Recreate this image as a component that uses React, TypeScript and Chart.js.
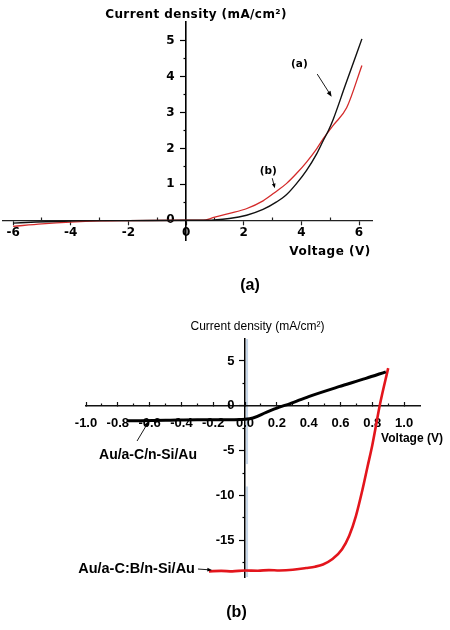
import React, { useEffect, useRef } from 'react';
import { Chart, registerables } from 'chart.js';

Chart.register(...registerables);

// ---------- Panel (a): J–V curves over ±6 V ----------
const voltageA = [-6, -5.2, -4, -2, 0, 0.7, 1.5, 2.1, 2.67, 3.14, 3.48, 3.83, 4.18, 4.53, 4.76, 4.94, 5.11, 5.52, 6.1];
const currentA = [-0.08, -0.05, -0.02, -0.01, 0, 0, 0.05, 0.14, 0.3, 0.51, 0.71, 1.02, 1.39, 1.85, 2.22, 2.5, 2.82, 3.75, 5.05];
const voltageB = [-6, -5, -4, -3, -2, 0, 0.6, 0.93, 1.51, 2.09, 2.67, 3.14, 3.48, 3.83, 4.18, 4.53, 4.76, 4.94, 5.11, 5.57, 6.1];
const currentB = [-0.17, -0.1, -0.05, -0.02, -0.01, 0, 0, 0.07, 0.19, 0.32, 0.54, 0.81, 1.02, 1.3, 1.62, 1.99, 2.27, 2.47, 2.65, 3.13, 4.31];

const xTicksA = [-6, -4, -2, 0, 2, 4, 6];
const xTickLabelsA = ['-6', '-4', '-2', '0', '2', '4', '6'];
const xMinorTicksA = [-5, -3, -1, 1, 3, 5];
const yTicksA = [0, 1, 2, 3, 4, 5];
const yTickLabelsA = ['0', '1', '2', '3', '4', '5'];
const yMinorTicksA = [0.5, 1.5, 2.5, 3.5, 4.5];

// ---------- Panel (b): Au/a-C/n-Si/Au vs Au/a-C:B/n-Si/Au ----------
const voltageUndoped = [-0.74, -0.5, -0.3, -0.1, 0, 0.05, 0.133, 0.216, 0.28, 0.4, 0.59, 0.76, 0.885];
const currentUndoped = [-1.68, -1.62, -1.55, -1.55, -1.5, -1.36, -0.73, -0.15, 0.22, 1.03, 2.13, 3.05, 3.79];
const voltageBoron = [-0.227, -0.15, -0.08, 0, 0.08, 0.15, 0.216, 0.3, 0.384, 0.44, 0.49, 0.55, 0.61, 0.655, 0.697, 0.739, 0.77, 0.8, 0.85, 0.9];
const currentBoron = [-18.47, -18.42, -18.47, -18.37, -18.4, -18.33, -18.37, -18.3, -18.1, -17.95, -17.7, -17.1, -16.0, -14.5, -12.3, -9.3, -6.8, -4.4, 0.3, 4.2];

const xTicksB = [-1, -0.8, -0.6, -0.4, -0.2, 0, 0.2, 0.4, 0.6, 0.8, 1];
const xTickLabelsB = ['-1.0', '-0.8', '-0.6', '-0.4', '-0.2', '0.0', '0.2', '0.4', '0.6', '0.8', '1.0'];
const xMinorTicksB = [-0.9, -0.7, -0.5, -0.3, -0.1, 0.1, 0.3, 0.5, 0.7, 0.9];
const yTicksB = [-15, -10, -5, 0, 5];
const yTickLabelsB = ['-15', '-10', '-5', '0', '5'];
const yMinorTicksB = [-17.5, -12.5, -7.5, -2.5, 2.5];

const SANS_WIDE = '"DejaVu Sans", sans-serif';
const SANS = '"Liberation Sans", Arial, sans-serif';

type Pt = [number, number];
type FixedText = { text: string; x: number; y: number; font: string; spacing?: number };
type Note = { text: string; at: Pt; font: string };
type Arrow = { from: Pt; to: Pt; width: number; head: number };
type Decor = {
  texts: FixedText[];
  notes: Note[];
  arrows: Arrow[];
  // labels of the y axis, set just left of the axis line crossing x = 0
  yLabels: { values: number[]; labels: string[]; font: string; gap: number };
  strip?: { color: string; spans: Pt[] };
};

const toPoints = (xs: number[], ys: number[]) => xs.map((x, i) => ({ x, y: ys[i] }));

function makeAxis(o: {
  dir: 'x' | 'y';
  min: number;
  max: number;
  values: number[];
  labels?: string[];
  position: any;
  tickLength: number;
  padding?: number;
  font?: any;
  color: string;
  border: number;
}) {
  return {
    type: 'linear',
    axis: o.dir,
    display: true,
    min: o.min,
    max: o.max,
    position: o.position,
    afterBuildTicks: (s: any) => {
      s.ticks = o.values.map((v) => ({ value: v }));
    },
    afterFit: (s: any) => {
      if (o.dir === 'x') s.height = 0;
      else s.width = 0;
    },
    grid: {
      display: true,
      drawOnChartArea: false,
      drawTicks: true,
      tickLength: o.tickLength,
      tickColor: o.color,
      tickWidth: 1.2,
    },
    border: { display: o.border > 0, color: o.color, width: o.border || 1 },
    ticks: {
      display: !!o.labels,
      autoSkip: false,
      maxRotation: 0,
      padding: o.padding ?? 3,
      color: '#000',
      font: o.font,
      callback: (_v: any, i: number) => (o.labels ? o.labels[i] : ''),
    },
  };
}

function decorPlugin(d: Decor) {
  return {
    id: 'panelDecor',
    beforeDraw(chart: any) {
      if (!d.strip) return;
      const { ctx, scales } = chart;
      const x0 = scales.x.getPixelForValue(0) + 2;
      ctx.save();
      ctx.strokeStyle = d.strip.color;
      ctx.lineWidth = 2;
      for (const [a, b] of d.strip.spans) {
        ctx.beginPath();
        ctx.moveTo(x0, scales.y.getPixelForValue(a));
        ctx.lineTo(x0, scales.y.getPixelForValue(b));
        ctx.stroke();
      }
      ctx.restore();
    },
    beforeDatasetsDraw(chart: any) {
      const { ctx, scales } = chart;
      const yl = d.yLabels;
      const xAxis = scales.x.getPixelForValue(0);
      ctx.save();
      ctx.fillStyle = '#000';
      ctx.font = yl.font;
      ctx.textAlign = 'right';
      ctx.textBaseline = 'middle';
      yl.values.forEach((v, i) => {
        ctx.fillText(yl.labels[i], xAxis - yl.gap, scales.y.getPixelForValue(v));
      });
      ctx.restore();
    },
    afterDraw(chart: any) {
      const { ctx, scales } = chart;
      const px = (p: Pt): Pt => [scales.x.getPixelForValue(p[0]), scales.y.getPixelForValue(p[1])];
      ctx.save();
      ctx.fillStyle = '#000';
      ctx.strokeStyle = '#000';
      ctx.textAlign = 'center';
      ctx.textBaseline = 'middle';
      for (const t of d.texts) {
        ctx.font = t.font;
        (ctx as any).letterSpacing = `${t.spacing ?? 0}px`;
        ctx.fillText(t.text, t.x, t.y);
      }
      (ctx as any).letterSpacing = '0px';
      for (const n of d.notes) {
        const [x, y] = px(n.at);
        ctx.font = n.font;
        ctx.fillText(n.text, x, y);
      }
      for (const a of d.arrows) {
        const [x1, y1] = px(a.from);
        const [x2, y2] = px(a.to);
        const ang = Math.atan2(y2 - y1, x2 - x1);
        ctx.lineWidth = a.width;
        ctx.beginPath();
        ctx.moveTo(x1, y1);
        ctx.lineTo(x2 - Math.cos(ang) * a.head * 0.6, y2 - Math.sin(ang) * a.head * 0.6);
        ctx.stroke();
        ctx.beginPath();
        ctx.moveTo(x2, y2);
        ctx.lineTo(x2 - a.head * Math.cos(ang - 0.38), y2 - a.head * Math.sin(ang - 0.38));
        ctx.lineTo(x2 - a.head * Math.cos(ang + 0.38), y2 - a.head * Math.sin(ang + 0.38));
        ctx.closePath();
        ctx.fill();
      }
      ctx.restore();
    },
  };
}

function configA(): any {
  const tickFont = { family: SANS_WIDE, size: 12, weight: 'bold' };
  const decor: Decor = {
    texts: [
      { text: 'Current density (mA/cm²)', x: 196, y: 15, font: `bold 12px ${SANS_WIDE}`, spacing: 0.4 },
      { text: 'Voltage (V)', x: 330, y: 252, font: `bold 12px ${SANS_WIDE}`, spacing: 0.5 },
      { text: '(a)', x: 250, y: 286, font: `bold 16px ${SANS}` },
    ],
    notes: [
      { text: '(a)', at: [3.93, 4.35], font: `bold 10.5px ${SANS_WIDE}` },
      { text: '(b)', at: [2.85, 1.35], font: `bold 10.5px ${SANS_WIDE}` },
    ],
    arrows: [
      { from: [4.55, 4.07], to: [5.05, 3.44], width: 0.9, head: 6 },
      { from: [2.99, 1.17], to: [3.08, 0.89], width: 0.9, head: 5 },
    ],
    yLabels: { values: yTicksA, labels: yTickLabelsA, font: `bold 12px ${SANS_WIDE}`, gap: 11.5 },
  };
  return {
    type: 'line',
    data: {
      datasets: [
        {
          label: '(a)',
          data: toPoints(voltageA, currentA),
          borderColor: '#111',
          borderWidth: 1.4,
          pointRadius: 0,
          cubicInterpolationMode: 'monotone',
        },
        {
          label: '(b)',
          data: toPoints(voltageB, currentB),
          borderColor: '#d42a2a',
          borderWidth: 1.3,
          pointRadius: 0,
          cubicInterpolationMode: 'monotone',
        },
      ],
    },
    options: {
      responsive: false,
      animation: false,
      events: [],
      layout: { padding: { left: 3, right: 78, top: 22, bottom: 60 } },
      plugins: { legend: { display: false }, tooltip: { enabled: false } },
      scales: {
        x: makeAxis({ dir: 'x', min: -6.35, max: 6.45, values: xTicksA, labels: xTickLabelsA, position: { y: 0 }, tickLength: 4, padding: 1.5, font: tickFont, color: '#222', border: 1.3 }),
        xMinor: makeAxis({ dir: 'x', min: -6.35, max: 6.45, values: xMinorTicksA, position: { y: 0 }, tickLength: -2.5, color: '#222', border: 0 }),
        y: makeAxis({ dir: 'y', min: -0.55, max: 5.52, values: yTicksA, position: { x: 0 }, tickLength: 5, color: '#000', border: 1.6 }),
        yMinor: makeAxis({ dir: 'y', min: -0.55, max: 5.52, values: yMinorTicksA, position: { x: 0 }, tickLength: 2.5, color: '#000', border: 0 }),
      },
    },
    plugins: [decorPlugin(decor)],
  };
}

function configB(): any {
  const tickFont = { family: SANS, size: 13, weight: 'bold' };
  const decor: Decor = {
    texts: [
      { text: 'Current density (mA/cm²)', x: 257.5, y: 27, font: `12px ${SANS}` },
      { text: 'Voltage (V)', x: 412, y: 139, font: `bold 12px ${SANS}` },
      { text: '(b)', x: 236.5, y: 313, font: `bold 16px ${SANS}` },
    ],
    notes: [
      { text: 'Au/a-C/n-Si/Au', at: [-0.61, -5.49], font: `bold 14px ${SANS}` },
      { text: 'Au/a-C:B/n-Si/Au', at: [-0.682, -18.21], font: `bold 14.5px ${SANS}` },
    ],
    arrows: [
      { from: [-0.679, -3.93], to: [-0.604, -1.7], width: 0.9, head: 6 },
      { from: [-0.296, -18.21], to: [-0.208, -18.32], width: 0.9, head: 5 },
    ],
    yLabels: { values: yTicksB, labels: yTickLabelsB, font: `bold 13px ${SANS}`, gap: 10.5 },
    strip: { color: '#c6d6e8', spans: [[7.45, -6.5], [-9, -19.1]] },
  };
  return {
    type: 'line',
    data: {
      datasets: [
        {
          label: 'Au/a-C/n-Si/Au',
          data: toPoints(voltageUndoped, currentUndoped),
          borderColor: '#000',
          borderWidth: 3,
          pointRadius: 0,
          cubicInterpolationMode: 'monotone',
        },
        {
          label: 'Au/a-C:B/n-Si/Au',
          data: toPoints(voltageBoron, currentBoron),
          borderColor: '#e3151c',
          borderWidth: 2.6,
          pointRadius: 0,
          cubicInterpolationMode: 'monotone',
        },
      ],
    },
    options: {
      responsive: false,
      animation: false,
      events: [],
      layout: { padding: { left: 86, right: 30, top: 39, bottom: 53 } },
      plugins: { legend: { display: false }, tooltip: { enabled: false } },
      scales: {
        x: makeAxis({ dir: 'x', min: -1, max: 1.1, values: xTicksB, labels: xTickLabelsB, position: { y: 0 }, tickLength: -4.5, padding: 13.9, font: tickFont, color: '#111', border: 1.5 }),
        xMinor: makeAxis({ dir: 'x', min: -1, max: 1.1, values: xMinorTicksB, position: { y: 0 }, tickLength: -2.5, color: '#111', border: 0 }),
        y: makeAxis({ dir: 'y', min: -19.1, max: 7.45, values: yTicksB, position: { x: 0 }, tickLength: 5, color: '#000', border: 1.5 }),
        yMinor: makeAxis({ dir: 'y', min: -19.1, max: 7.45, values: yMinorTicksB, position: { x: 0 }, tickLength: 2.5, color: '#000', border: 0 }),
      },
    },
    plugins: [decorPlugin(decor)],
  };
}

function Panel({ make, top, height }: { make: () => any; top: number; height: number }) {
  const ref = useRef<HTMLCanvasElement>(null);
  useEffect(() => {
    const chart = new Chart(ref.current as HTMLCanvasElement, make());
    return () => chart.destroy();
  }, [make]);
  return (
    <canvas
      ref={ref}
      width={450}
      height={height}
      style={{ position: 'absolute', left: 0, top, width: 450, height, display: 'block' }}
    />
  );
}

export default function App() {
  return (
    <div style={{ position: 'absolute', left: 0, top: 0, width: 450, height: 630, background: '#fff' }}>
      <Panel make={configA} top={0} height={300} />
      <Panel make={configB} top={300} height={330} />
    </div>
  );
}
